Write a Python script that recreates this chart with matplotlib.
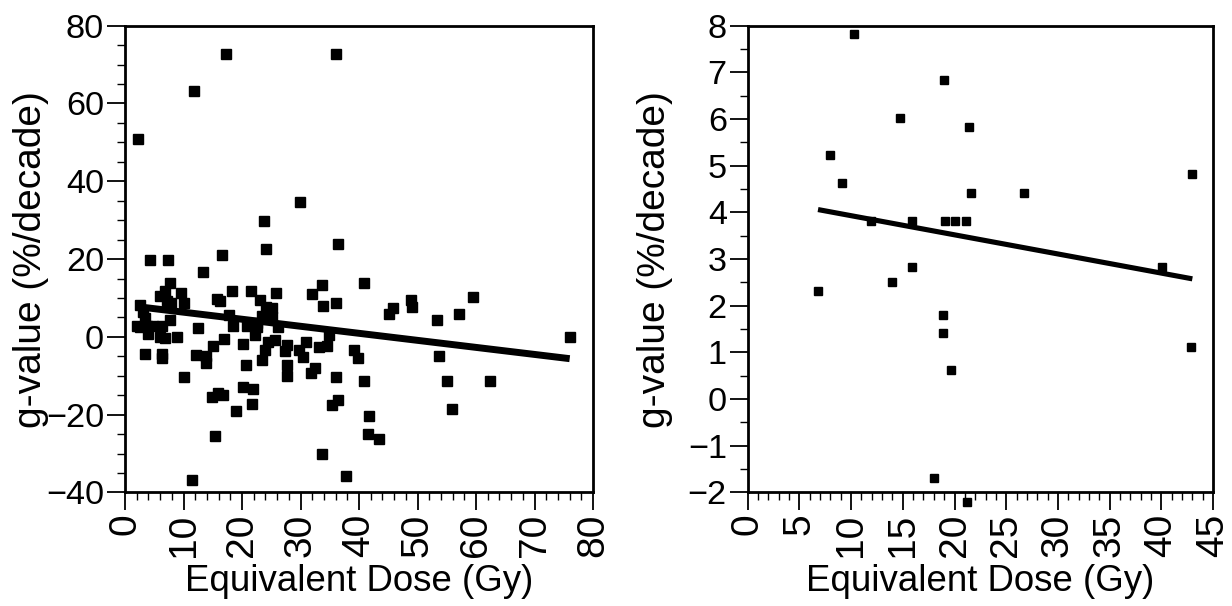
import numpy as np
import matplotlib
matplotlib.use('Agg')
import matplotlib.pyplot as plt
from matplotlib import font_manager
from matplotlib.ticker import MultipleLocator

plt.rcParams['font.family'] = ['Liberation Sans', 'DejaVu Sans']

# --- left panel: all samples ---
dose_all = [2.2, 11.8, 17.3, 36.1, 29.9, 23.8, 24.1, 36.4, 16.5, 4.3,
            7.3, 13.4, 7.7, 6.8, 5.9, 9.6, 7.2, 7.8, 10.0, 2.6,
            3.1, 3.4, 7.7, 2.0, 2.6, 3.7, 4.8, 6.3, 4.0, 5.9,
            6.8, 8.8, 3.4, 6.4, 6.3, 10.0, 12.4, 12.2, 13.8, 13.8,
            15.1, 16.9, 15.7, 16.2, 18.2, 17.7, 18.4, 20.1, 20.6, 20.2,
            21.8, 21.7, 14.9, 15.9, 16.7, 19.0, 15.3, 11.4, 21.5, 23.0,
            24.1, 25.2, 23.4, 25.2, 22.5, 20.8, 22.5, 26.1, 22.2, 24.4,
            25.6, 23.9, 23.4, 25.8, 27.6, 27.3, 27.6, 27.6, 29.7, 30.5,
            30.9, 31.9, 33.6, 33.9, 36.1, 34.9, 33.2, 34.6, 32.5, 31.7,
            36.1, 36.4, 35.4, 33.6, 37.7, 39.2, 39.9, 40.9, 48.8, 49.1,
            45.8, 45.1, 59.5, 57.0, 53.3, 53.7, 40.9, 55.0, 62.3, 55.8,
            41.7, 41.6, 43.4, 76.0]
g_all = [50.8, 63.1, 72.7, 72.7, 34.8, 29.7, 22.6, 24.0, 21.0, 19.8,
         19.8, 16.8, 13.8, 11.7, 10.6, 11.3, 9.1, 8.7, 8.7, 8.3,
         6.5, 4.9, 4.4, 2.7, 2.5, 2.7, 2.7, 2.7, 0.7, 0.1,
         -0.2, 0.0, -4.3, -4.3, -5.3, -10.3, 2.4, -4.6, -5.0, -6.7,
         -2.3, -0.5, 9.7, 9.3, 11.8, 5.7, 2.7, -1.7, -7.3, -13.0,
         -13.3, -17.3, -15.5, -14.5, -15.0, -19.1, -25.4, -36.7, 11.9, 9.5,
         7.8, 7.4, 5.4, 5.0, 3.7, 2.9, 2.5, 2.5, 0.6, -1.2,
         -0.7, -3.3, -5.9, 11.4, -2.1, -3.5, -7.1, -10.1, -3.3, -5.1,
         -1.2, 11.0, 13.4, 8.0, 8.7, 0.6, -2.7, -2.3, -8.1, -9.3,
         -10.2, -16.2, -17.6, -30.0, -35.8, -3.4, -5.3, 13.8, 9.5, 7.8,
         7.4, 5.9, 10.2, 5.8, 4.4, -5.0, -11.3, -11.3, -11.3, -18.5,
         -20.3, -25.0, -26.3, 0.0]
fit_all = (8.16, -0.181)  # intercept, slope

# --- right panel: subset ---
dose_sub = [10.3, 19.0, 14.7, 21.4, 8.0, 9.1, 43.0, 21.6, 26.7, 11.9,
            15.9, 19.1, 20.0, 21.1, 6.8, 14.0, 15.9, 40.1, 42.9, 18.9,
            18.9, 19.7, 18.0, 21.2]
g_sub = [7.82, 6.83, 6.02, 5.82, 5.22, 4.62, 4.82, 4.42, 4.42, 3.81,
         3.81, 3.81, 3.81, 3.81, 2.32, 2.52, 2.82, 2.82, 1.11, 1.81,
         1.41, 0.62, -1.70, -2.20]
fit_sub = (4.34, -0.041)


def has_font(name):
    try:
        font_manager.findfont(font_manager.FontProperties(family=name), fallback_to_default=False)
        return True
    except ValueError:
        return False


# the original text looks tall and narrow when it runs horizontally
if has_font('Liberation Sans Narrow'):
    narrow, narrow_scale = 'Liberation Sans Narrow', 1.0
else:
    narrow, narrow_scale = 'Liberation Sans', 0.85

fig = plt.figure(figsize=(12.32, 6.06), dpi=100)
ax1 = fig.add_axes([0.1015, 0.1873, 0.3799, 0.7703])
ax2 = fig.add_axes([0.6069, 0.1873, 0.3777, 0.7703])


def style_axes(ax, xlim, ylim, xmaj, xmin, ymaj, ymin):
    ax.set_xlim(*xlim)
    ax.set_ylim(*ylim)
    ax.xaxis.set_major_locator(MultipleLocator(xmaj))
    ax.xaxis.set_minor_locator(MultipleLocator(xmin))
    ax.yaxis.set_major_locator(MultipleLocator(ymaj))
    ax.yaxis.set_minor_locator(MultipleLocator(ymin))
    ax.tick_params(which='major', direction='out', length=13, width=1.3, pad=2)
    ax.tick_params(which='minor', direction='out', length=6, width=1.0)
    ax.tick_params(axis='x', labelrotation=90, labelsize=28)
    ax.tick_params(axis='y', labelsize=29 * narrow_scale, labelfontfamily=narrow)
    for s in ax.spines.values():
        s.set_linewidth(2.0)
    ax.set_xlabel('Equivalent Dose (Gy)', fontsize=31 * narrow_scale, family=narrow, va='center')
    ax.xaxis.set_label_coords(0.5, -0.19)
    ax.set_ylabel('g-value (%/decade)', fontsize=28, va='center')
    ax.yaxis.set_label_coords(-0.2, 0.5)


ax1.plot(dose_all, g_all, 's', color='black', ms=6.5, clip_on=False)
xs = np.array([min(dose_all), max(dose_all)])
ax1.plot(xs, fit_all[0] + fit_all[1] * xs, color='black', lw=5, solid_capstyle='butt')
style_axes(ax1, (0, 80), (-40, 80), 10, 2, 20, 5)

ax2.plot(dose_sub, g_sub, 's', color='black', ms=6, clip_on=False)
xs = np.array([min(dose_sub), max(dose_sub)])
ax2.plot(xs, fit_sub[0] + fit_sub[1] * xs, color='black', lw=3.7, solid_capstyle='butt')
style_axes(ax2, (0, 45), (-2, 8), 5, 1, 1, 0.5)

plt.savefig('out.png', dpi=100)
